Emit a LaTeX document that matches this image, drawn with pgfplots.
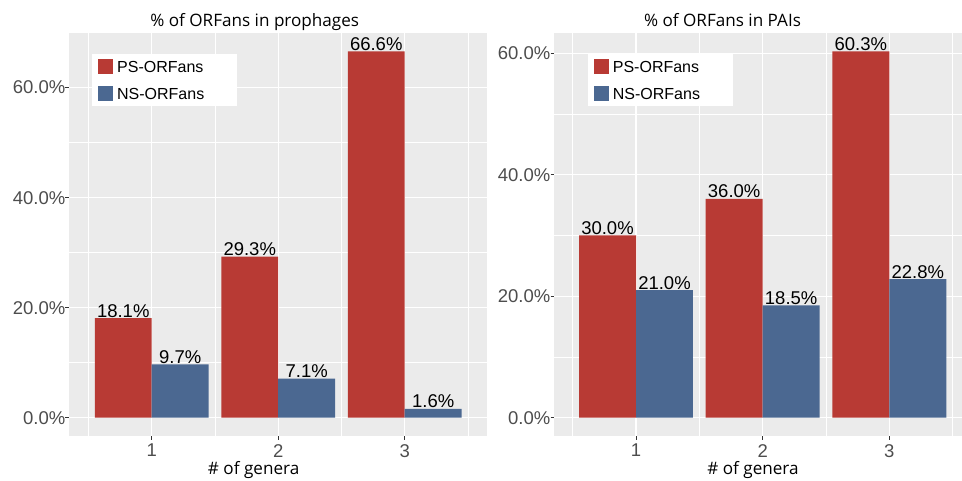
\documentclass[border=0pt]{standalone}
\usepackage{pgfplots}
\pgfplotsset{compat=1.18}
\usepackage{fontspec}
\setmainfont{Liberation Sans}
\newfontfamily\titlefont{Open Sans}
\definecolor{psred}{RGB}{184,58,52}
\definecolor{nsblue}{RGB}{75,104,145}
\definecolor{bg}{RGB}{235,235,235}
\definecolor{axtext}{RGB}{77,77,77}
\definecolor{axtick}{RGB}{51,51,51}
\pgfplotsset{
  every axis title shift=0pt,
  panel/.style={
    scale only axis, height=403pt,
    axis background/.style={fill=bg},
    axis line style={draw=none},
    grid=both,
    major grid style={white, line width=1.1pt},
    minor grid style={white, line width=0.55pt},
    xtick={1,2,3}, minor xtick={0.5,1.5,2.5,3.5},
    ytick={0,20,40,60}, minor ytick={10,30,50},
    tick align=outside, major tick length=3.5pt, minor tick length=0pt,
    tick style={axtick, line width=0.8pt},
    xtick pos=bottom, ytick pos=left,
    /pgf/number format/assume math mode=true,
    yticklabel={\pgfmathprintnumber[fixed,fixed zerofill,precision=1]{\tick}\%},
    ticklabel style={font=\fontsize{18.5}{20}\selectfont, text=axtext},
    yticklabel style={inner sep=0pt},
    xticklabel style={inner sep=0pt, yshift=-4.5pt},
    ybar, bar width=0.45,
    nodes near coords, point meta=explicit symbolic,
    nodes near coords style={font=\fontsize{18.5}{20}\selectfont, text=black, anchor=base, inner sep=0pt, yshift=1pt},
    legend image code/.code={\fill[##1] (0pt,-7.5pt) rectangle (15pt,7.5pt);},
    legend cell align=left,
    legend style={anchor=north west, draw=none, fill=white, inner xsep=6pt, inner ysep=5pt,
      font=\fontsize{16}{18}\selectfont, row sep=11.6pt,
      nodes={inner sep=0pt, text height=11.5pt, text depth=0pt},
      /tikz/every odd column/.append style={column sep=4pt}},
    title style={anchor=base, inner sep=0pt, font=\titlefont\fontsize{17.1}{19}\selectfont},
    xlabel style={anchor=base, inner sep=0pt, font=\titlefont\fontsize{17.1}{19}\selectfont},
  }
}
\begin{document}
\begin{tikzpicture}
\path[use as bounding box] (0,0) rectangle (962pt,480pt);
\begin{axis}[panel, at={(69pt,44pt)}, anchor=south west, width=417.7pt,
  xmin=0.3462, xmax=3.648, ymin=-3.33, ymax=69.93,
  title={\% of ORFans in prophages}, title style={at={(0.4446,1.0156)}},
  xlabel={\# of genera}, xlabel style={at={(0.442,-0.095)}},
  legend style={at={(0.055,0.948)}}]
\addplot[fill=psred, draw=none, bar shift=-0.225] coordinates {(1,18.1) [18.1\%] (2,29.3) [29.3\%] (3,66.6) [66.6\%]};
\addlegendentry{\makebox[114pt][l]{PS-ORFans}}
\addplot[fill=nsblue, draw=none, bar shift=0.225] coordinates {(1,9.7) [9.7\%] (2,7.1) [7.1\%] (3,1.6) [1.6\%]};
\addlegendentry{\makebox[114pt][l]{NS-ORFans}}
\end{axis}
\begin{axis}[panel, at={(554pt,44pt)}, anchor=south west, width=418.4pt,
  xmin=0.3526, xmax=3.656, ymin=-3.015, ymax=63.315,
  title={\% of ORFans in PAIs}, title style={at={(0.4027,1.0156)}},
  xlabel={\# of genera}, xlabel style={at={(0.4756,-0.095)}},
  legend style={at={(0.0805,0.948)}}]
\addplot[fill=psred, draw=none, bar shift=-0.225] coordinates {(1,30.0) [30.0\%] (2,36.0) [36.0\%] (3,60.3) [60.3\%]};
\addlegendentry{\makebox[114pt][l]{PS-ORFans}}
\addplot[fill=nsblue, draw=none, bar shift=0.225] coordinates {(1,21.0) [21.0\%] (2,18.5) [18.5\%] (3,22.8) [22.8\%]};
\addlegendentry{\makebox[114pt][l]{NS-ORFans}}
\end{axis}
\end{tikzpicture}
\end{document}
